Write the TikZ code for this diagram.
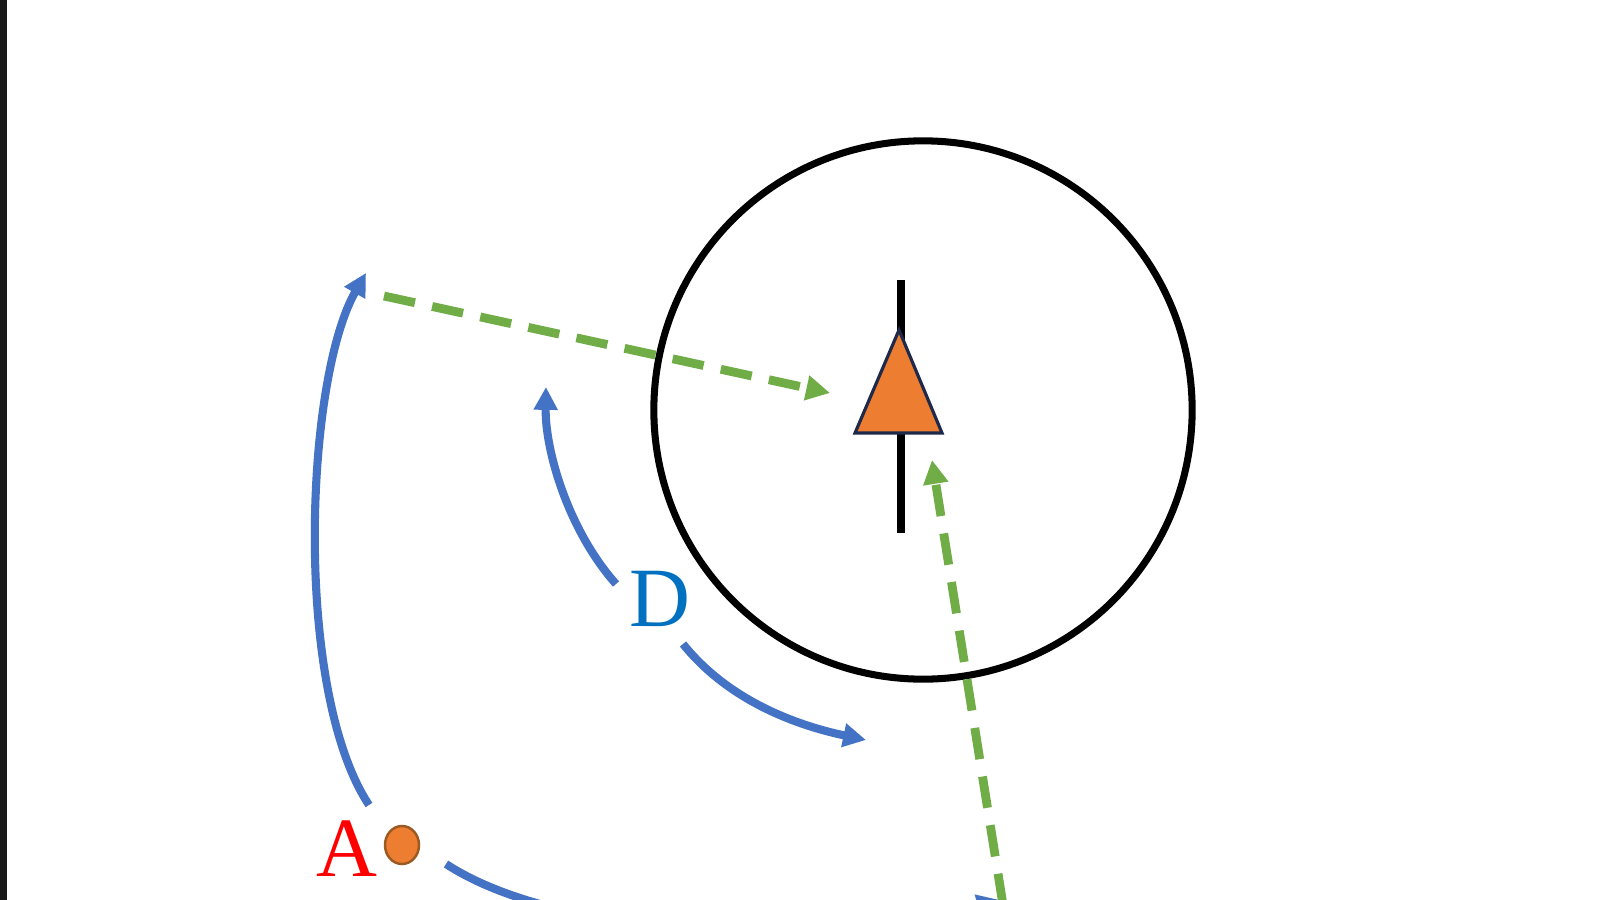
\documentclass[tikz,border=0pt]{standalone}
\usepackage{fontspec}
\setmainfont{Liberation Serif}
\usetikzlibrary{arrows.meta,shapes.geometric}
\definecolor{bl}{HTML}{4472C4}
\definecolor{gr}{HTML}{70AD47}
\definecolor{og}{HTML}{ED7D31}
\definecolor{ogd}{HTML}{9C5A22}
\definecolor{nv}{HTML}{1F2A4A}
\definecolor{dblue}{HTML}{0070C0}
\tikzset{
  blarrow/.style={draw=bl, line width=2.3pt, -{Triangle[length=6.5pt,width=6.5pt]}},
  grarrow/.style={draw=gr, line width=2.5pt, dash pattern=on 9pt off 5pt, -{Triangle[length=6.8pt,width=6.8pt]}},
  lbl/.style={font=\fontsize{24}{24}\selectfont, inner sep=0pt}
}
\begin{document}
\begin{tikzpicture}[x=0.01cm,y=-0.01cm]
\useasboundingbox (0,0) rectangle (1600,900);
\fill[white] (0,0) rectangle (1600,900);
\fill[black!90] (0,0) rectangle (7,900);
% circle
\node[draw=black, line width=2pt, circle, minimum size=5.38cm, inner sep=0pt] (ring) at (923,410) {};
% vertical line and triangle
\coordinate (vtop) at (901,280);
\coordinate (vbot) at (901,533);
\draw[line width=2.2pt] (vtop) -- (vbot);
\coordinate (tapex) at (899,330);
\coordinate (tl) at (855,433);
\coordinate (tr) at (942,433);
\filldraw[fill=og, draw=nv, line width=0.9pt, line join=miter] (tapex) -- (tl) -- (tr) -- cycle;
% labels
\node[lbl, text=red] (A) at (347,849) {A};
\node[draw=ogd, fill=og, line width=0.7pt, ellipse, minimum width=0.34cm, minimum height=0.38cm, inner sep=0pt] (dot) at (402,845) {};
\node[lbl, text=dblue] (D) at (660,599) {D};
% endpoints
\coordinate (b1s) at (369,805);
\coordinate (b1e) at (366,273);
\coordinate (b2s) at (616,584);
\coordinate (b2e) at (546,387);
\coordinate (b3s) at (683,644);
\coordinate (b3e) at (866,740);
\coordinate (b4s) at (446,864);
\coordinate (b4e) at (1000,900);
\coordinate (g1s) at (384,296);
\coordinate (g1e) at (830,393);
\coordinate (g2s) at (1003,905);
\coordinate (g2e) at (932,460);
% blue arrows
\draw[blarrow] (b1s) .. controls (293,690) and (305,380) .. (b1e);
\draw[blarrow] (b2s) .. controls (568,530) and (545,450) .. (b2e);
\draw[blarrow] (b3s) .. controls (728,700) and (795,725) .. (b3e);
\draw[blarrow] (b4s) .. controls (575,948) and (860,940) .. (b4e);
% green arrows
\draw[grarrow] (g1s) -- (g1e);
\draw[grarrow] (g2s) -- (g2e);
\end{tikzpicture}
\end{document}
